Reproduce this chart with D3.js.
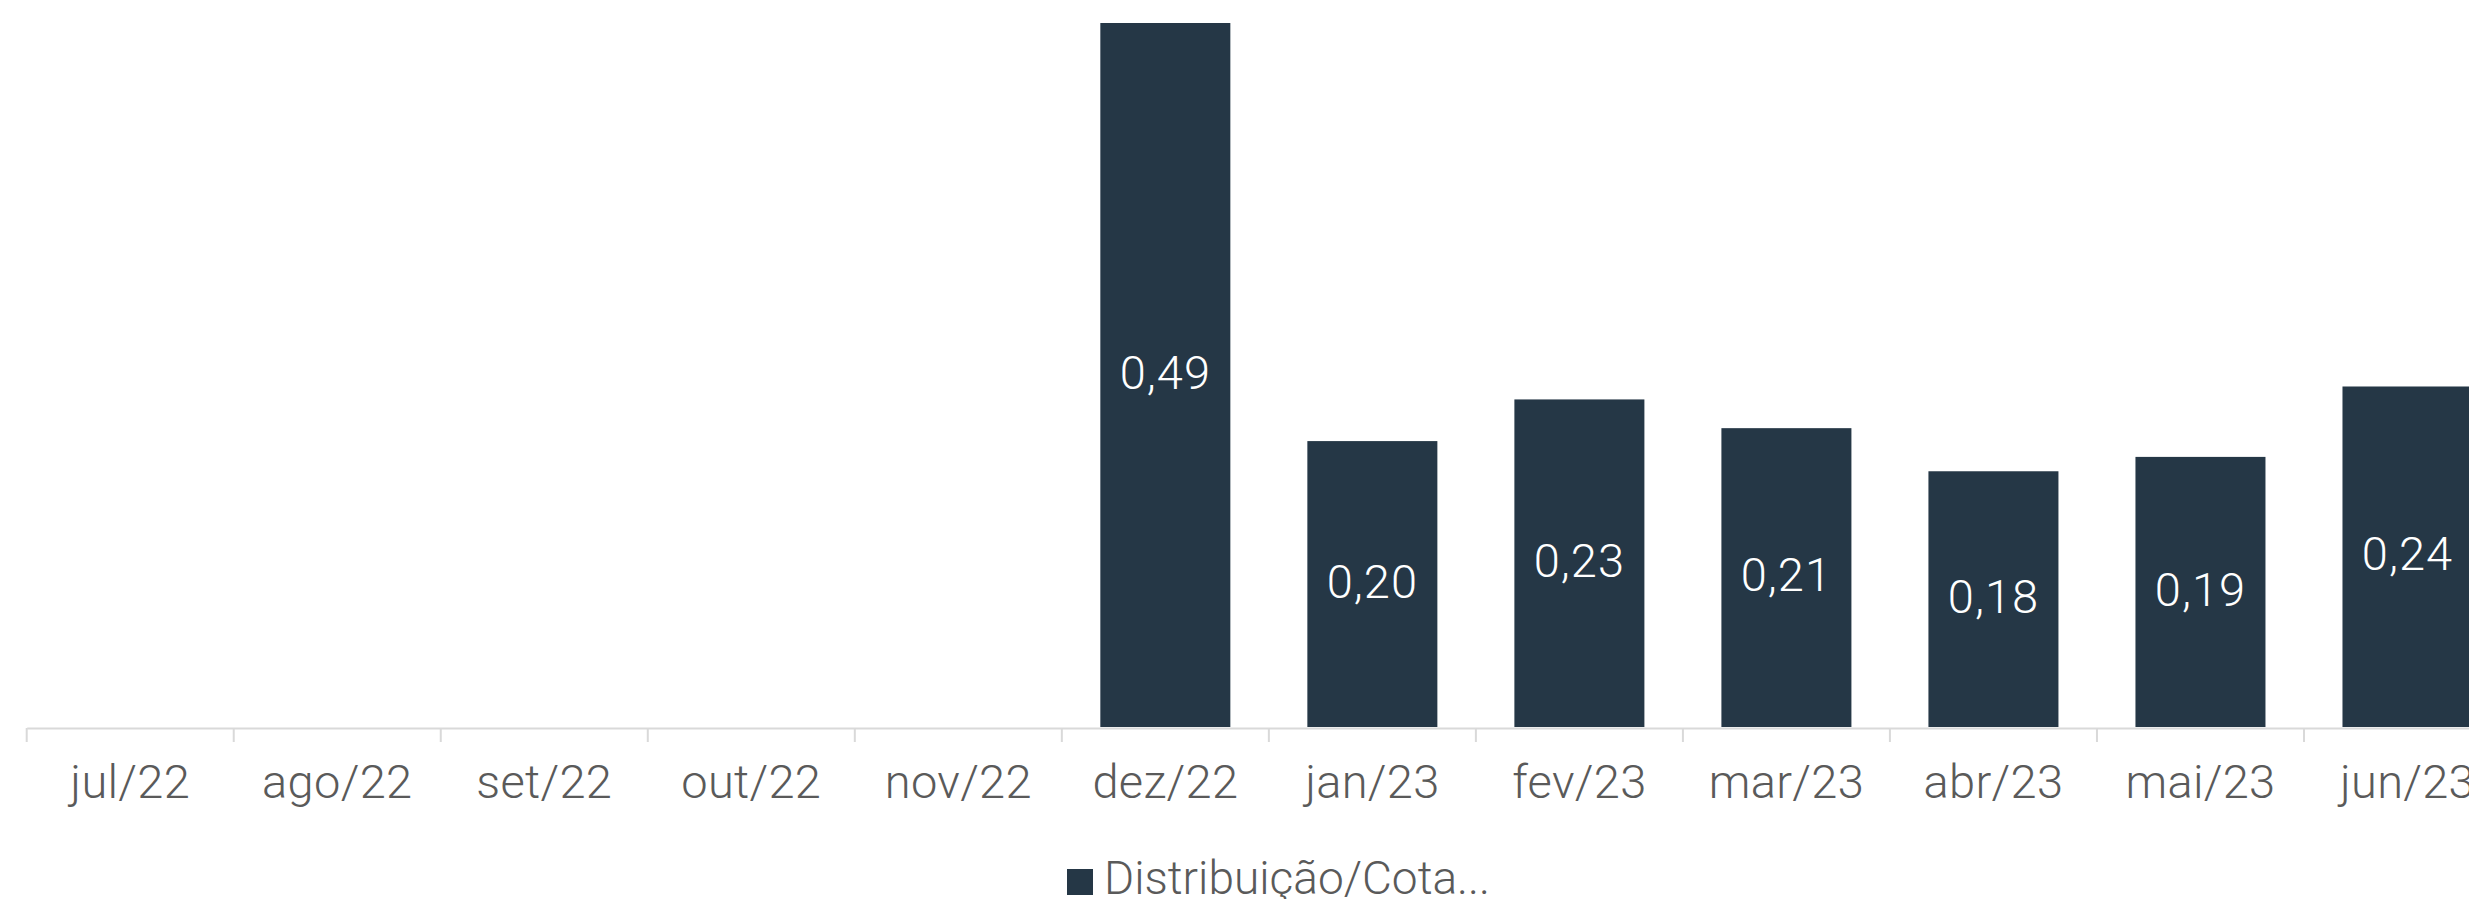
<!DOCTYPE html>
<html>
<head>
<meta charset="utf-8">
<script src="https://cdn.jsdelivr.net/npm/d3@7"></script>
<style>
  html, body { margin: 0; padding: 0; background: #ffffff; overflow: hidden; }
  svg { display: block; }
  text { font-family: Roboto, "DejaVu Sans", sans-serif; }
</style>
</head>
<body>
<svg id="chart" width="2469" height="899"></svg>
<script>
const categories = ["jul/22","ago/22","set/22","out/22","nov/22","dez/22","jan/23","fev/23","mar/23","abr/23","mai/23","jun/23"];
const values = [null, null, null, null, null, 0.49, 0.199, 0.228, 0.208, 0.178, 0.188, 0.237];
const valueLabels = ["", "", "", "", "", "0,49", "0,20", "0,23", "0,21", "0,18", "0,19", "0,24"];
const seriesName = "Distribuição/Cota...";

const barColor = "#253746";
const svg = d3.select("#chart");

const x = d3.scaleBand().domain(categories).range([26.7, 2511]).paddingInner(0.372).paddingOuter(0.186);
const y = d3.scaleLinear().domain([0, 0.49]).range([727, 23]);

// Bars
const data = categories.map((c, i) => ({ c, v: values[i], label: valueLabels[i] }));
svg.append("g").selectAll("rect")
  .data(data.filter(d => d.v != null))
  .join("rect")
  .attr("x", d => x(d.c))
  .attr("y", d => y(d.v))
  .attr("width", x.bandwidth())
  .attr("height", d => y(0) - y(d.v))
  .attr("fill", barColor);

// Value labels
svg.append("g").selectAll("text")
  .data(data.filter(d => d.v != null))
  .join("text")
  .attr("x", d => x(d.c) + x.bandwidth() / 2)
  .attr("y", d => (y(d.v) + y(0)) / 2)
  .attr("dy", "0.29em")
  .attr("text-anchor", "middle")
  .attr("fill", "#ffffff")
  .attr("font-size", 47)
  .attr("font-weight", 300)
  .attr("letter-spacing", 1)
  .text(d => d.label);

// X axis
const xAxisScale = d3.scaleBand().domain(categories).range([26.7, 2511]);
const axis = d3.axisBottom(xAxisScale).tickSize(0).tickPadding(0);
const gx = svg.append("g").attr("transform", "translate(0,728)").call(axis);
gx.select(".domain").attr("stroke", "#d9d9d9").attr("stroke-width", 2);
gx.selectAll(".tick text")
  .attr("y", 70)
  .attr("dy", 0)
  .attr("fill", "#5a5a5a")
  .attr("font-size", 47)
  .attr("font-weight", 300)
  .attr("letter-spacing", 0.3)
  .attr("font-family", "Roboto, sans-serif");
// Boundary ticks between categories
const bounds = categories.map(c => xAxisScale(c)).concat([xAxisScale.range()[1]]);
gx.append("g").selectAll("line")
  .data(bounds)
  .join("line")
  .attr("x1", d => d).attr("x2", d => d)
  .attr("y1", 0).attr("y2", 14)
  .attr("stroke", "#d9d9d9")
  .attr("stroke-width", 2);

// Legend
const lg = svg.append("g");
lg.append("rect").attr("x", 1067).attr("y", 869).attr("width", 26).attr("height", 26).attr("fill", barColor);
lg.append("text")
  .attr("x", 1104).attr("y", 894)
  .attr("fill", "#5a5a5a")
  .attr("font-size", 46)
  .attr("font-weight", 300)
  .attr("letter-spacing", 0)
  .text(seriesName);
</script>
</body>
</html>
